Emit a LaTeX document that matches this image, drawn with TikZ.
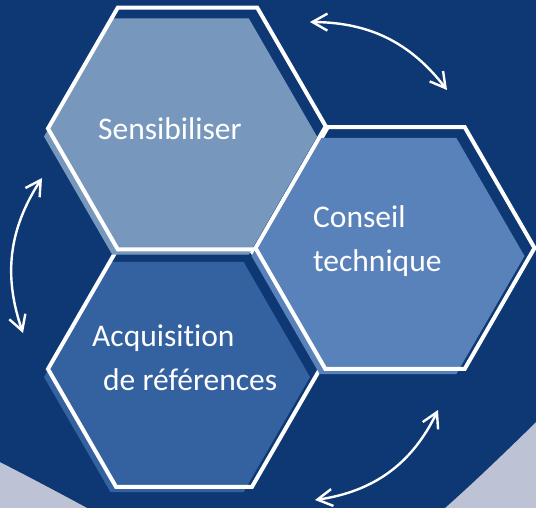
\documentclass[tikz,border=0pt]{standalone}
\usepackage{fontspec}
\setmainfont{Carlito}[Ligatures={NoCommon}]
\usetikzlibrary{shapes.geometric,arrows.meta}
\definecolor{bgblue}{RGB}{13,56,116}
\definecolor{bggrey}{RGB}{189,195,213}
\definecolor{hexlight}{RGB}{120,151,189}
\definecolor{hexmid}{RGB}{90,130,186}
\definecolor{hexdark}{RGB}{52,97,159}

\begin{document}
\begin{tikzpicture}[x=1pt,y=-1pt]
\tikzset{hexa/.style={regular polygon,regular polygon sides=6,inner sep=0pt,minimum size=#1},
  hexline/.style={hexa=#1,draw=white,line width=4pt},
  lbl/.style={text=white,inner sep=0pt,anchor=base west,font=\fontsize{31.5}{38}\selectfont},
  cyc/.style={white,line width=2.4pt,{Straight Barb[length=15pt,width=17pt]}-{Straight Barb[length=15pt,width=17pt]}}}
\useasboundingbox (0,0) rectangle (536,508);
\clip (0,0) rectangle (536,508);
\fill [bggrey] (0,0) rectangle (536,508);
\fill [bgblue] (0,0) -- (0,462) .. controls (300,615) and (286,667) .. (536,422) -- (536,0) -- cycle;
% hexagons: shadow fill, then white border
\node [hexa=266pt,fill=hexdark] (f3) at (177,377) {};
\node [hexline=272pt] (h3) at (184,369) {};
\node [hexa=273pt,fill=hexlight] (f1) at (180.5,136.5) {};
\node [hexline=279pt] (h1) at (187.5,128.5) {};
\node [hexa=273pt,fill=hexmid] (f2) at (388,256) {};
\node [hexline=279pt] (h2) at (395,248) {};
\node [lbl] (tsens) at (98,140) {Sensibiliser};
\node [lbl] (tcons) at (313,228) {Conseil};
\node [lbl] (ttech) at (313,272) {technique};
\node [lbl] (tacq) at (92,346) {Acquisition};
\node [lbl] (tref) at (103,390) {de références};
% cycle arrows
\coordinate (a1) at (310,22);
\coordinate (a2) at (447,90);
\coordinate (b1) at (42,178);
\coordinate (b2) at (23,333);
\coordinate (c1) at (438,410);
\coordinate (c2) at (315,500);
\draw [cyc] (a1) to[bend left=26] (a2);
\draw [cyc] (b1) to[bend right=26] (b2);
\draw [cyc] (c1) to[bend left=28] (c2);
\end{tikzpicture}
\end{document}
